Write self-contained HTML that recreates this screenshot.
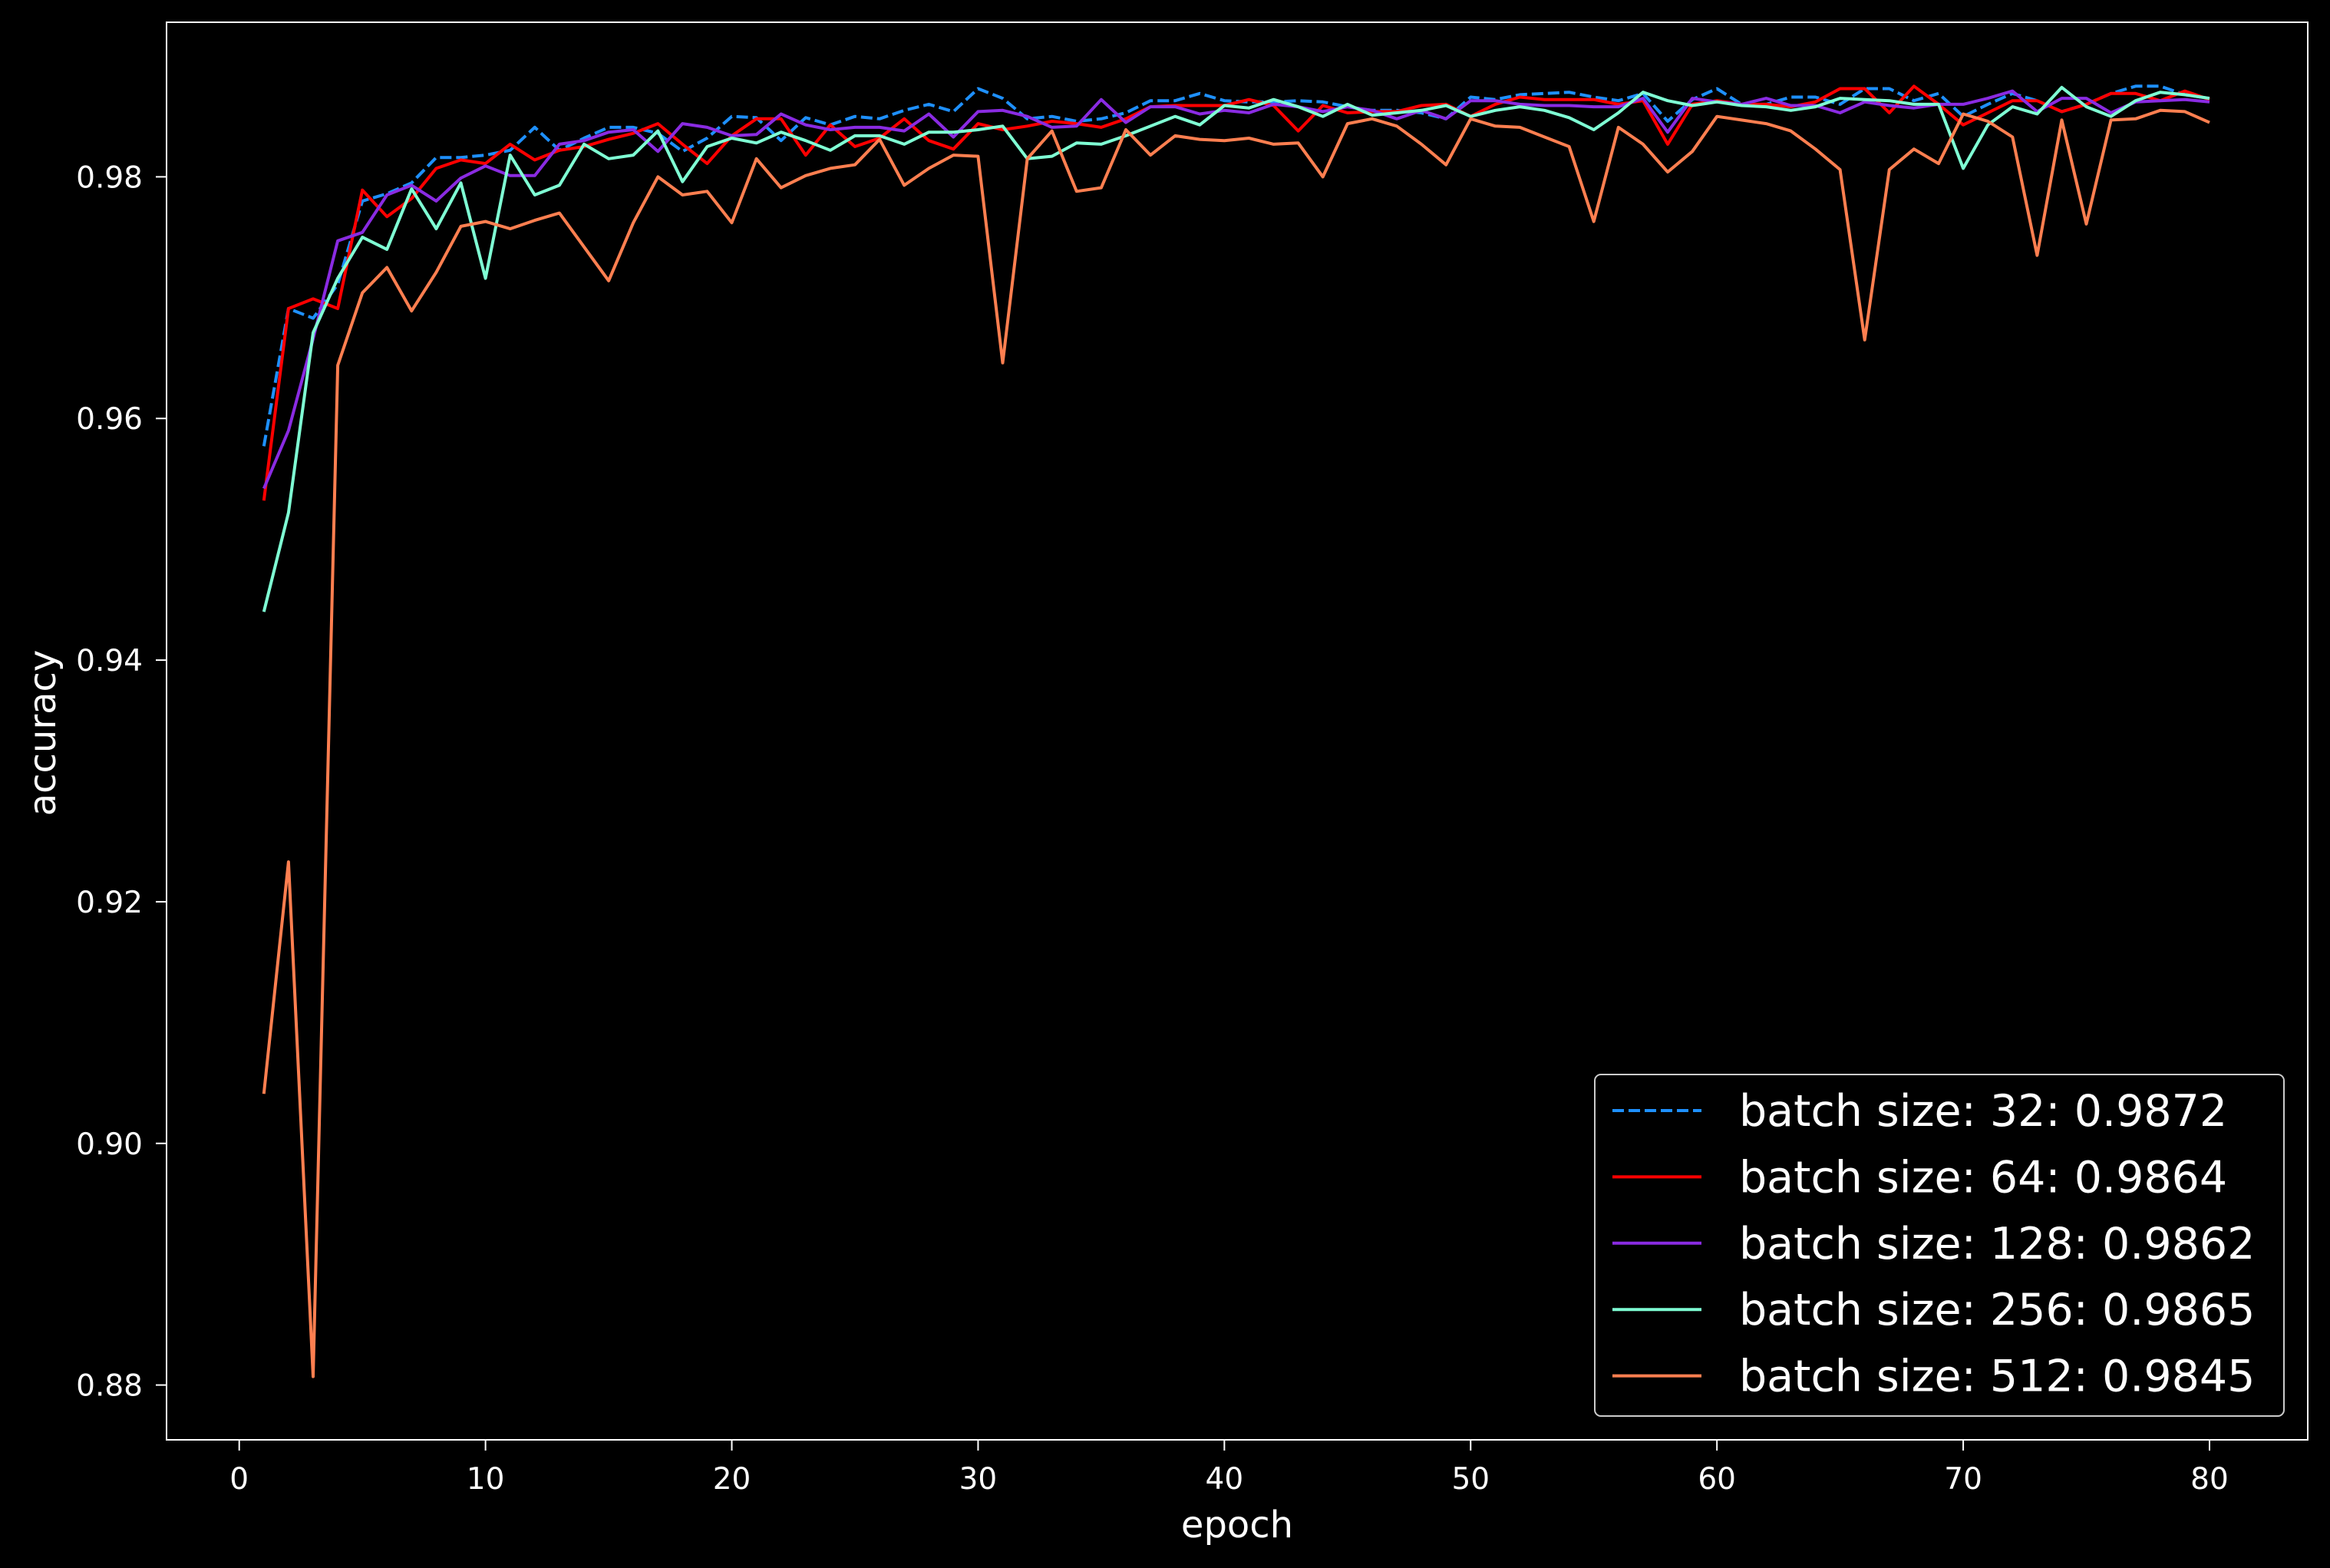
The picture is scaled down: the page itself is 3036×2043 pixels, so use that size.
<!DOCTYPE html>
<html><head><meta charset="utf-8"><style>
html,body{margin:0;padding:0;background:#000;}
svg{display:block;font-family:"DejaVu Sans","Liberation Sans",sans-serif;}
</style></head><body>
<svg id="chart" width="3036" height="2043" viewBox="0 0 3036 2043" xmlns="http://www.w3.org/2000/svg">
<rect x="0" y="0" width="3036" height="2043" fill="#000"/>
<g id="plot"></g>
</svg>
<script>
const epochs = Array.from({length:80},(_,i)=>i+1);
const xTicks = [0,10,20,30,40,50,60,70,80];
const yTicks = [0.88,0.90,0.92,0.94,0.96,0.98];
const yTickLabels = ["0.88","0.90","0.92","0.94","0.96","0.98"];
const bs32 = [0.9577,0.9691,0.9683,0.9711,0.9780,0.9786,0.9795,0.9816,0.9816,0.9818,0.9822,0.9841,0.9822,0.9832,0.9841,0.9841,0.9836,0.9821,0.9832,0.9850,0.9849,0.9830,0.9849,0.9843,0.9850,0.9848,0.9855,0.9860,0.9854,0.9873,0.9865,0.9848,0.9850,0.9846,0.9848,0.9853,0.9863,0.9863,0.9869,0.9863,0.9862,0.9862,0.9863,0.9862,0.9858,0.9855,0.9855,0.9853,0.9848,0.9866,0.9864,0.9868,0.9869,0.9870,0.9866,0.9863,0.9869,0.9846,0.9864,0.9873,0.9860,0.9860,0.9866,0.9866,0.9860,0.9873,0.9873,0.9863,0.9869,0.9850,0.9860,0.9869,0.9863,0.9854,0.9860,0.9869,0.9875,0.9875,0.9868,0.9865];
const bs64 = [0.9532,0.9691,0.9699,0.9691,0.9789,0.9767,0.9782,0.9807,0.9814,0.9811,0.9827,0.9814,0.9822,0.9825,0.9831,0.9836,0.9844,0.9827,0.9811,0.9834,0.9848,0.9848,0.9818,0.9843,0.9825,0.9832,0.9848,0.9830,0.9823,0.9844,0.9839,0.9842,0.9846,0.9844,0.9841,0.9848,0.9858,0.9859,0.9859,0.9859,0.9864,0.9859,0.9838,0.9859,0.9853,0.9854,0.9854,0.9859,0.9860,0.9850,0.9860,0.9866,0.9864,0.9864,0.9864,0.9860,0.9863,0.9827,0.9860,0.9863,0.9860,0.9860,0.9858,0.9862,0.9873,0.9873,0.9853,0.9875,0.9860,0.9843,0.9853,0.9863,0.9863,0.9854,0.9860,0.9869,0.9869,0.9863,0.9871,0.9864];
const bs128 = [0.9542,0.9590,0.9666,0.9747,0.9754,0.9785,0.9793,0.9780,0.9799,0.9809,0.9801,0.9801,0.9827,0.9830,0.9837,0.9839,0.9821,0.9844,0.9841,0.9834,0.9835,0.9852,0.9843,0.9839,0.9841,0.9841,0.9838,0.9852,0.9833,0.9854,0.9855,0.9850,0.9841,0.9842,0.9864,0.9845,0.9858,0.9858,0.9852,0.9855,0.9853,0.9860,0.9858,0.9854,0.9858,0.9855,0.9848,0.9855,0.9848,0.9863,0.9863,0.9860,0.9859,0.9859,0.9858,0.9858,0.9865,0.9837,0.9865,0.9862,0.9860,0.9865,0.9859,0.9859,0.9853,0.9862,0.9859,0.9857,0.9860,0.9860,0.9865,0.9871,0.9854,0.9865,0.9865,0.9853,0.9862,0.9863,0.9864,0.9862];
const bs256 = [0.9440,0.9522,0.9671,0.9716,0.9750,0.9740,0.9790,0.9757,0.9795,0.9716,0.9818,0.9785,0.9793,0.9827,0.9815,0.9818,0.9838,0.9796,0.9825,0.9832,0.9828,0.9837,0.9830,0.9822,0.9834,0.9834,0.9827,0.9837,0.9837,0.9839,0.9842,0.9815,0.9817,0.9828,0.9827,0.9834,0.9842,0.9850,0.9843,0.9859,0.9857,0.9864,0.9858,0.9850,0.9860,0.9851,0.9853,0.9855,0.9859,0.9850,0.9855,0.9858,0.9855,0.9849,0.9839,0.9853,0.9870,0.9863,0.9859,0.9862,0.9859,0.9858,0.9855,0.9858,0.9865,0.9864,0.9863,0.9860,0.9860,0.9807,0.9843,0.9858,0.9852,0.9874,0.9858,0.9850,0.9863,0.9870,0.9868,0.9865];
const bs512 = [0.9041,0.9233,0.8807,0.9644,0.9704,0.9725,0.9689,0.9721,0.9759,0.9763,0.9757,0.9764,0.9770,0.9742,0.9714,0.9762,0.9800,0.9785,0.9788,0.9762,0.9815,0.9791,0.9801,0.9807,0.9810,0.9831,0.9793,0.9807,0.9818,0.9817,0.9646,0.9815,0.9838,0.9788,0.9791,0.9839,0.9818,0.9834,0.9831,0.9830,0.9832,0.9827,0.9828,0.9800,0.9844,0.9848,0.9842,0.9827,0.9810,0.9848,0.9842,0.9841,0.9833,0.9825,0.9763,0.9841,0.9827,0.9804,0.9821,0.9850,0.9847,0.9844,0.9838,0.9823,0.9806,0.9665,0.9806,0.9823,0.9811,0.9852,0.9846,0.9833,0.9735,0.9847,0.9761,0.9847,0.9848,0.9855,0.9854,0.9845];
const seriesNames = ["batch size: 32: 0.9872","batch size: 64: 0.9864","batch size: 128: 0.9862","batch size: 256: 0.9865","batch size: 512: 0.9845"];

const NS="http://www.w3.org/2000/svg";
const L=217,R=3007,T=29,B=1876;
const X0=311.7,XS=(2879-311.7)/80;
const Y98=230.4,YS=(1804.6-230.4)/0.10;
const xs=v=>X0+v*XS;
const ys=v=>Y98+(0.98-v)*YS;
const g=document.getElementById('plot');
function mk(tag,attrs,parent){const e=document.createElementNS(NS,tag);for(const k in attrs)e.setAttribute(k,attrs[k]);(parent||g).appendChild(e);return e;}

const styles=[{c:"#1e90ff",d:"15,6"},{c:"#ff0000",d:""},{c:"#8a2be2",d:""},{c:"#7fffd4",d:""},{c:"#ff7f50",d:""}];
const series=[bs32,bs64,bs128,bs256,bs512];
const lineNames=['line-batch-32','line-batch-64','line-batch-128','line-batch-256','line-batch-512'];
const lg=mk('g',{});


series.forEach((s,i)=>{
  const pts=s.map((v,j)=>xs(epochs[j]).toFixed(1)+','+ys(v).toFixed(1)).join(' ');
  const p=mk('polyline',{points:pts,fill:'none',stroke:styles[i].c,'stroke-width':4,'stroke-linejoin':'round'},lg);
  if(styles[i].d)p.setAttribute('stroke-dasharray',styles[i].d);
  
  
});

const fr=mk('rect',{x:L,y:T,width:R-L,height:B-T,fill:'none',stroke:'#fff','stroke-width':2});



xTicks.forEach(t=>{
  const x=xs(t);
  const tk=mk('line',{x1:x,x2:x,y1:B,y2:B+14,stroke:'#fff','stroke-width':2});
  
  
  const tx=mk('text',{x:x,y:1940,fill:'#fff','font-size':39,'text-anchor':'middle'});
  tx.textContent=String(t);
  
  
});
yTicks.forEach((t,i)=>{
  const y=ys(t);
  const tk=mk('line',{x1:L-14,x2:L,y1:y,y2:y,stroke:'#fff','stroke-width':2});
  
  
  const tx=mk('text',{x:186,y:y+14,fill:'#fff','font-size':39,'text-anchor':'end'});
  tx.textContent=yTickLabels[i];
  
  
});
const xt=mk('text',{x:(L+R)/2,y:2003,fill:'#fff','font-size':48,'text-anchor':'middle'});
xt.textContent='epoch';


const yt=mk('text',{x:0,y:0,fill:'#fff','font-size':48,'text-anchor':'middle',transform:'translate(72,955) rotate(-90)'});
yt.textContent='accuracy';



const leg=mk('g',{});


const lb=mk('rect',{x:2078,y:1400,width:898,height:445,rx:8,fill:'#000','fill-opacity':0.8,stroke:'#ccc','stroke-width':2},leg);


seriesNames.forEach((n,i)=>{
  const y=1447+i*86.4;
  const ln=mk('line',{x1:2101,x2:2217,y1:y,y2:y,stroke:styles[i].c,'stroke-width':4},leg);
  if(styles[i].d)ln.setAttribute('stroke-dasharray',styles[i].d);
  
  
  const tx=mk('text',{x:2266,y:y+20,fill:'#fff','font-size':57},leg);
  tx.textContent=n;
  
  
});
</script>
</body></html>
